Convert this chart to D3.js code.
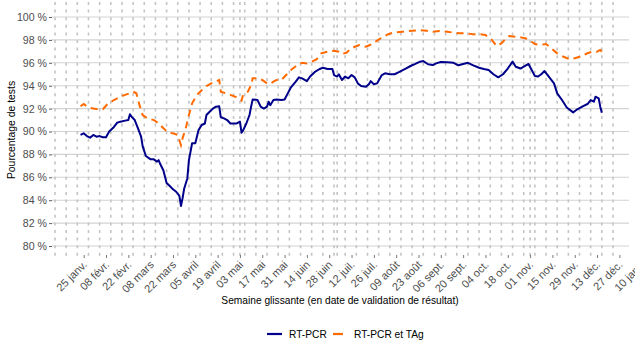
<!DOCTYPE html>
<html><head><meta charset="utf-8">
<script src="https://cdn.jsdelivr.net/npm/d3@7"></script>
<style>body{margin:0;background:#fff}svg{display:block;font-family:"Liberation Sans",Arial,sans-serif}</style>
</head><body><svg id="c" width="635" height="353"></svg>
<script>
const pcrDates = ["2021-01-23","2021-01-25","2021-01-27","2021-01-29","2021-01-31","2021-02-02","2021-02-04","2021-02-06","2021-02-08","2021-02-10","2021-02-13","2021-02-15","2021-02-17","2021-02-20","2021-02-22","2021-02-23","2021-02-24","2021-02-26","2021-02-28","2021-03-02","2021-03-03","2021-03-05","2021-03-08","2021-03-10","2021-03-12","2021-03-13","2021-03-14","2021-03-16","2021-03-18","2021-03-20","2021-03-22","2021-03-24","2021-03-26","2021-03-27","2021-03-28","2021-03-29","2021-03-31","2021-04-01","2021-04-03","2021-04-05","2021-04-07","2021-04-09","2021-04-11","2021-04-12","2021-04-14","2021-04-16","2021-04-18","2021-04-20","2021-04-21","2021-04-23","2021-04-25","2021-04-27","2021-04-29","2021-05-01","2021-05-03","2021-05-04","2021-05-05","2021-05-07","2021-05-09","2021-05-10","2021-05-11","2021-05-14","2021-05-16","2021-05-18","2021-05-20","2021-05-21","2021-05-22","2021-05-24","2021-05-26","2021-05-29","2021-05-31","2021-06-02","2021-06-04","2021-06-07","2021-06-09","2021-06-11","2021-06-14","2021-06-16","2021-06-19","2021-06-22","2021-06-24","2021-06-27","2021-06-30","2021-07-01","2021-07-03","2021-07-04","2021-07-06","2021-07-08","2021-07-10","2021-07-12","2021-07-14","2021-07-16","2021-07-18","2021-07-21","2021-07-23","2021-07-24","2021-07-26","2021-07-28","2021-07-31","2021-08-02","2021-08-05","2021-08-08","2021-08-11","2021-08-15","2021-08-18","2021-08-21","2021-08-24","2021-08-26","2021-08-29","2021-09-01","2021-09-03","2021-09-06","2021-09-10","2021-09-14","2021-09-17","2021-09-20","2021-09-23","2021-09-26","2021-09-30","2021-10-03","2021-10-06","2021-10-09","2021-10-12","2021-10-15","2021-10-18","2021-10-21","2021-10-23","2021-10-26","2021-10-28","2021-10-31","2021-11-02","2021-11-04","2021-11-06","2021-11-08","2021-11-10","2021-11-12","2021-11-16","2021-11-18","2021-11-21","2021-11-24","2021-11-28","2021-11-30","2021-12-04","2021-12-07","2021-12-09","2021-12-11","2021-12-12","2021-12-14","2021-12-15","2021-12-16"];
const pcrValues = [89.7,89.84,89.6,89.46,89.7,89.55,89.6,89.5,89.5,90.0,90.4,90.77,90.86,90.95,91.0,91.5,91.3,91.0,90.3,89.55,88.7,87.86,87.57,87.57,87.37,87.5,87.16,86.6,85.5,85.24,84.95,84.74,84.37,83.5,84.16,85.0,85.9,87.5,88.97,88.97,90.1,90.57,90.7,91.44,91.73,92.0,92.17,92.2,91.24,91.15,91.0,90.7,90.7,90.7,90.86,89.9,90.1,90.7,91.44,92.17,92.8,92.75,92.17,92.0,92.17,92.6,92.3,92.75,92.8,92.75,92.8,93.33,93.86,94.35,94.73,94.64,94.4,94.8,95.2,95.46,95.57,95.46,95.46,94.93,94.8,95.0,94.5,94.8,94.65,94.93,94.73,94.2,93.97,93.9,94.15,94.4,94.12,94.2,94.93,95.08,95.0,95.0,95.2,95.5,95.72,95.9,96.1,96.15,95.87,95.8,95.95,96.07,96.04,96.0,95.78,95.9,96.0,95.8,95.57,95.46,95.37,95.0,94.73,95.0,95.5,96.1,95.66,95.5,95.66,95.9,95.37,94.85,94.8,95.0,95.28,94.93,94.2,93.33,92.75,92.1,91.67,91.88,92.2,92.4,92.75,92.6,93.04,92.9,92.17,91.64];

const tagDates = ["2021-01-23","2021-01-25","2021-01-27","2021-01-31","2021-02-03","2021-02-06","2021-02-09","2021-02-13","2021-02-17","2021-02-20","2021-02-23","2021-02-25","2021-02-27","2021-03-01","2021-03-03","2021-03-06","2021-03-10","2021-03-13","2021-03-16","2021-03-19","2021-03-22","2021-03-25","2021-03-27","2021-03-28","2021-03-30","2021-04-01","2021-04-03","2021-04-06","2021-04-09","2021-04-12","2021-04-15","2021-04-18","2021-04-20","2021-04-21","2021-04-24","2021-04-27","2021-04-30","2021-05-02","2021-05-04","2021-05-05","2021-05-08","2021-05-10","2021-05-11","2021-05-14","2021-05-17","2021-05-20","2021-05-22","2021-05-24","2021-05-26","2021-05-29","2021-06-01","2021-06-04","2021-06-08","2021-06-11","2021-06-14","2021-06-17","2021-06-20","2021-06-23","2021-06-27","2021-07-01","2021-07-04","2021-07-06","2021-07-09","2021-07-11","2021-07-14","2021-07-17","2021-07-21","2021-07-25","2021-07-28","2021-07-31","2021-08-04","2021-08-08","2021-08-13","2021-08-19","2021-08-24","2021-08-28","2021-09-01","2021-09-05","2021-09-10","2021-09-14","2021-09-18","2021-09-22","2021-09-26","2021-10-01","2021-10-04","2021-10-06","2021-10-08","2021-10-11","2021-10-14","2021-10-17","2021-10-19","2021-10-23","2021-10-26","2021-10-29","2021-11-01","2021-11-04","2021-11-07","2021-11-11","2021-11-15","2021-11-18","2021-11-22","2021-11-26","2021-11-29","2021-12-02","2021-12-07","2021-12-10","2021-12-13","2021-12-15","2021-12-16"];
const tagValues = [92.2,92.4,92.2,92.0,91.94,91.94,92.4,92.75,93.04,93.2,93.34,93.48,93.34,92.3,91.44,91.15,91.0,90.7,90.28,89.9,89.84,89.7,88.8,89.4,90.28,91.44,92.46,93.2,93.6,93.97,94.2,94.35,94.5,93.48,93.34,93.2,93.04,92.98,92.7,93.2,93.48,94.06,94.65,94.65,94.5,94.2,94.15,94.35,94.5,94.5,94.93,95.37,95.8,96.0,95.95,96.1,96.3,96.83,96.97,97.06,96.97,96.77,96.9,97.18,97.4,97.55,97.4,97.64,97.93,98.2,98.5,98.66,98.72,98.8,98.86,98.8,98.72,98.78,98.72,98.63,98.58,98.58,98.49,98.49,98.43,98.22,98.0,97.47,97.7,98.14,98.34,98.28,98.22,98.14,97.93,97.64,97.55,97.64,97.18,96.83,96.53,96.3,96.4,96.53,96.83,96.97,96.97,97.12,96.97];

const yTicks = [80,82,84,86,88,90,92,94,96,98,100];
const xTickLabels = ["25 janv.","08 févr.","22 févr.","08 mars","22 mars","05 avril","19 avril","03 mai","17 mai","31 mai","14 juin","28 juin","12 juil.","26 juil.","09 août","23 août","06 sept.","20 sept.","04 oct.","18 oct.","01 nov.","15 nov.","29 nov.","13 déc.","27 déc.","10 janv."];
const firstTick = "2021-01-25";
const gridStart = "2021-01-07";
const gridCount = 51;
const extraGrid = ["2021-05-03","2021-07-03","2021-11-01"];
const seriesNames = ["RT-PCR","RT-PCR et TAg"];
const seriesColors = ["#00008b","#ff6a00"];

const FONT = '"Liberation Sans",Arial,sans-serif';
const parse = d3.utcParse("%Y-%m-%d");
const svg = d3.select("#c");
const x = d3.scaleUtc().domain([parse("2021-01-07"), parse("2022-01-10")]).range([55, 641.7]);
const y = d3.scaleLinear().domain([80,100]).range([246,17]);
const L = 52, R = 629, T = 2, B = 257;

// horizontal grid
svg.append("g").selectAll("line").data(yTicks).join("line")
  .attr("x1", L).attr("x2", R).attr("y1", d=>y(d)).attr("y2", d=>y(d))
  .attr("stroke","#d3d3d3").attr("stroke-width",1.1);

// vertical weekly dashed grid
const gridDates = d3.range(0, gridCount).map(i=>d3.utcDay.offset(parse(gridStart), i*7));
svg.append("g").selectAll("line").data(gridDates.concat(extraGrid.map(parse))).join("line")
  .attr("x1", d=>x(d)).attr("x2", d=>x(d)).attr("y1", T).attr("y2", B)
  .attr("stroke","#c4c4c4").attr("stroke-width",1.6).attr("stroke-dasharray","3,4.6");

// y axis
const yAxis = svg.append("g").attr("transform",`translate(${L},0)`)
  .call(d3.axisLeft(y).tickValues(yTicks).tickSize(3).tickFormat(d=>d+" %"));
yAxis.select(".domain").remove();
yAxis.selectAll("line").attr("stroke","#333").attr("stroke-width",0.8);
yAxis.selectAll("text").attr("fill","#4d4d4d").attr("font-size",10.6).attr("x",-5)
  .style("font-family",FONT);

// x axis
const tickDates = xTickLabels.map((t,i)=>d3.utcDay.offset(parse(firstTick), i*14));
const xAxis = svg.append("g").attr("transform",`translate(0,${B-2})`)
  .call(d3.axisBottom(x).tickValues(tickDates).tickSize(3).tickFormat((d,i)=>xTickLabels[i]));
xAxis.select(".domain").remove();
xAxis.selectAll("line").attr("stroke","#555").attr("stroke-width",0.8);
xAxis.selectAll("text").attr("fill","#4d4d4d").attr("font-size",11)
  .style("font-family",FONT)
  .attr("text-anchor","end").attr("dy","0.7em").attr("y",0)
  .attr("transform","translate(-2,5) rotate(-45)");

// lines
const line = d3.line().x(d=>x(d[0])).y(d=>y(d[1])).curve(d3.curveLinear);
const pcr = pcrDates.map((d,i)=>[parse(d), pcrValues[i]]);
const tag = tagDates.map((d,i)=>[parse(d), tagValues[i]]);
svg.append("path").datum(tag).attr("d",line).attr("fill","none")
  .attr("stroke",seriesColors[1]).attr("stroke-width",2).attr("stroke-dasharray","7,5");
svg.append("path").datum(pcr).attr("d",line).attr("fill","none")
  .attr("stroke",seriesColors[0]).attr("stroke-width",2).attr("stroke-linejoin","round");

// axis titles
svg.append("text").attr("x",340).attr("y",304).attr("text-anchor","middle")
  .attr("font-size",10.2).attr("fill","#000").text("Semaine glissante (en date de validation de résultat)");
svg.append("text").attr("transform","translate(15,130) rotate(-90)").attr("text-anchor","middle")
  .attr("font-size",10.4).attr("fill","#000").text("Pourcentage de tests");

// legend
const lg = svg.append("g");
lg.append("line").attr("x1",267).attr("x2",282).attr("y1",334).attr("y2",334)
  .attr("stroke",seriesColors[0]).attr("stroke-width",2.2);
lg.append("text").attr("x",289).attr("y",338).attr("font-size",10.2).text(seriesNames[0]);
lg.append("line").attr("x1",333).attr("x2",343).attr("y1",334).attr("y2",334)
  .attr("stroke",seriesColors[1]).attr("stroke-width",2.2);
lg.append("text").attr("x",354).attr("y",338).attr("font-size",10.2).text(seriesNames[1]);
</script></body></html>
